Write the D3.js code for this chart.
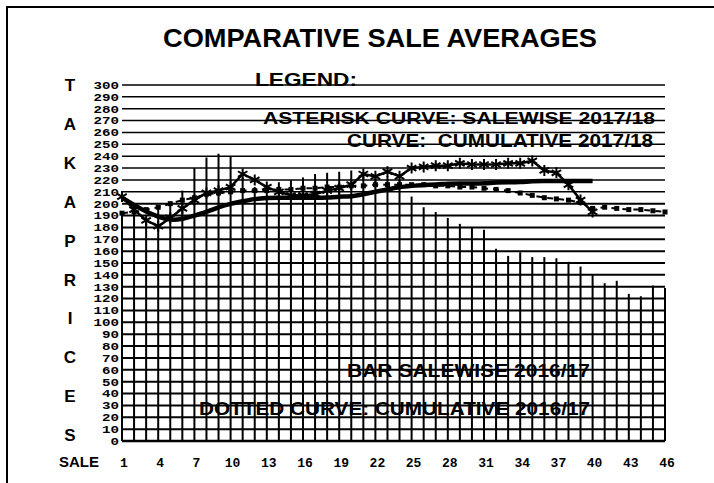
<!DOCTYPE html>
<html>
<head>
<meta charset="utf-8">
<script src="https://cdn.jsdelivr.net/npm/d3@7"></script>
<style>
  body { margin: 0; background: #fff; }
  text { font-family: "Liberation Sans", Arial, sans-serif; font-weight: 700; fill: #000; }
  .mono { font-family: "Liberation Mono", "DejaVu Sans Mono", monospace; }
</style>
</head>
<body>
<script>
// sale numbers
var sales = [1,2,3,4,5,6,7,8,9,10,11,12,13,14,15,16,17,18,19,20,21,22,23,24,25,26,27,28,29,30,
             31,32,33,34,35,36,37,38,39,40,41,42,43,44,45,46];
var xTicks = [1,4,7,10,13,16,19,22,25,28,31,34,37,40,43,46];
var yTicks = [0,10,20,30,40,50,60,70,80,90,100,110,120,130,140,150,160,170,180,190,200,
              210,220,230,240,250,260,270,280,290,300];
var sideLetters = ["T","A","K","A","P","R","I","C","E","S"];

// bar: salewise 2016/17
var bar1617 = [193,190,188,197,199,211,230,239,242,240,222,214,215,218,220,222,225,226,227,228,
               225,222,223,220,206,197,193,188,183,180,178,162,156,159,155,155,154,151,147,140,
               133,135,124,122,131,129];
// dotted: cumulative 2016/17
var cum1617 = [192,193,195,197,200,203,205,208,209,210,211,211,211,212,212,213,213,214,214,215,
               215,216,216,216,216,216,215,215,214,214,213,212,211,209,207,205,204,203,201,196,
               197,196,195,195,194,193];
// asterisk: salewise 2017/18
var sale1718 = [206,195,186,181,188,196,203,209,211,214,225,220,214,210,207,207,208,211,213,216,
                225,223,227,223,230,231,232,232,234,233,233,233,234,234,236,228,226,216,203,193];
// solid: cumulative 2017/18
var cum1718 = [205,199,193,189,186,187,190,193,197,200,202,204,205,205,205,205,205,205,206,206,
               208,210,212,214,215,216,216,217,217,217,217,218,218,218,219,219,219,219,219,219];

var svg = d3.select("body").append("svg")
  .attr("width", 714)
  .attr("height", 483);

var x = d3.scaleLinear().domain([1, 46]).range([122, 665]);
var y = d3.scaleLinear().domain([0, 300]).range([441, 85]);

// frame (only top and left edges show)
svg.append("path")
  .attr("d", "M7,483 L7,7 L714,7")
  .attr("fill", "none")
  .attr("stroke", "#000")
  .attr("stroke-width", 2);

// title
svg.append("text")
  .attr("x", 163).attr("y", 47)
  .attr("font-size", 26)
  .attr("textLength", 434).attr("lengthAdjust", "spacingAndGlyphs")
  .text("COMPARATIVE SALE AVERAGES");

// horizontal grid lines
svg.append("g").selectAll("line")
  .data(yTicks)
  .enter().append("line")
  .attr("x1", x(1)).attr("x2", x(46))
  .attr("y1", function(d) { return y(d); })
  .attr("y2", function(d) { return y(d); })
  .attr("stroke", "#000")
  .attr("stroke-width", function(d) { return d == 0 ? 2.5 : (d > 200 ? 1.5 : 2); });

// bars drawn as thin uprights
svg.append("g").selectAll("line")
  .data(bar1617)
  .enter().append("line")
  .attr("x1", function(d, i) { return x(sales[i]); })
  .attr("x2", function(d, i) { return x(sales[i]); })
  .attr("y1", y(0))
  .attr("y2", function(d) { return y(d); })
  .attr("stroke", "#000")
  .attr("stroke-width", 2);

// y tick labels, squeezed like the original
svg.append("g").selectAll("text")
  .data(yTicks)
  .enter().append("text")
  .attr("class", "mono")
  .attr("x", 119)
  .attr("y", function(d) { return y(d); })
  .attr("dy", "0.35em")
  .attr("text-anchor", "end")
  .attr("font-size", 11)
  .attr("textLength", function(d) { return String(d).length * 8.5; })
  .attr("lengthAdjust", "spacingAndGlyphs")
  .text(function(d) { return d; });

// side letters
svg.append("g").selectAll("text")
  .data(sideLetters)
  .enter().append("text")
  .attr("x", 70)
  .attr("y", function(d, i) { return 91 + i * 38.9; })
  .attr("text-anchor", "middle")
  .attr("font-size", 17)
  .text(function(d) { return d; });

// x tick labels
svg.append("text")
  .attr("x", 59).attr("y", 467)
  .attr("font-size", 15)
  .text("SALE");

svg.append("g").selectAll("text")
  .data(xTicks)
  .enter().append("text")
  .attr("class", "mono")
  .attr("x", function(d) { return x(d) + 2; })
  .attr("y", 467)
  .attr("text-anchor", "middle")
  .attr("font-size", 13)
  .text(function(d) { return d; });

var line = d3.line()
  .x(function(d, i) { return x(sales[i]); })
  .y(function(d) { return y(d); });

// dotted curve: cumulative 2016/17
svg.append("path")
  .attr("d", line(cum1617))
  .attr("fill", "none")
  .attr("stroke", "#000")
  .attr("stroke-width", 2)
  .attr("stroke-dasharray", "6,5");

svg.append("g").selectAll("rect")
  .data(cum1617)
  .enter().append("rect")
  .attr("x", function(d, i) { return x(sales[i]) - 2.5; })
  .attr("y", function(d) { return y(d) - 2.5; })
  .attr("width", 5).attr("height", 5)
  .attr("fill", "#000");

// solid curve: cumulative 2017/18
svg.append("path")
  .attr("d", line.curve(d3.curveBasis)(cum1718))
  .attr("fill", "none")
  .attr("stroke", "#000")
  .attr("stroke-width", 4.5);

// asterisk curve: salewise 2017/18
svg.append("path")
  .attr("d", line.curve(d3.curveLinear)(sale1718))
  .attr("fill", "none")
  .attr("stroke", "#000")
  .attr("stroke-width", 2.5);

function asterisk(r) {
  var p = "";
  for (var k = 0; k < 3; k++) {
    var a = Math.PI / 2 + k * Math.PI / 3;
    var dx = r * Math.cos(a), dy = r * Math.sin(a);
    p += "M" + (-dx) + "," + (-dy) + "L" + dx + "," + dy;
  }
  return p;
}

svg.append("g").selectAll("path")
  .data(sale1718)
  .enter().append("path")
  .attr("transform", function(d, i) { return "translate(" + x(sales[i]) + "," + y(d) + ")"; })
  .attr("d", asterisk(5.5))
  .attr("stroke", "#000")
  .attr("stroke-width", 2);

// legend texts
svg.append("text")
  .attr("x", 255).attr("y", 86)
  .attr("font-size", 19)
  .attr("textLength", 102).attr("lengthAdjust", "spacingAndGlyphs")
  .text("LEGEND:");

svg.append("text")
  .attr("x", 263).attr("y", 124)
  .attr("font-size", 16)
  .attr("textLength", 392).attr("lengthAdjust", "spacingAndGlyphs")
  .text("ASTERISK CURVE: SALEWISE 2017/18");

svg.append("text")
  .attr("x", 347).attr("y", 147)
  .attr("font-size", 19)
  .attr("textLength", 306).attr("lengthAdjust", "spacingAndGlyphs")
  .attr("xml:space", "preserve")
  .text("CURVE:  CUMULATIVE 2017/18");

svg.append("text")
  .attr("x", 347).attr("y", 377)
  .attr("font-size", 19)
  .attr("textLength", 243).attr("lengthAdjust", "spacingAndGlyphs")
  .text("BAR SALEWISE 2016/17");

svg.append("text")
  .attr("x", 199).attr("y", 415)
  .attr("font-size", 18)
  .attr("textLength", 391).attr("lengthAdjust", "spacingAndGlyphs")
  .text("DOTTED CURVE: CUMULATIVE 2016/17");
</script>
</body>
</html>
